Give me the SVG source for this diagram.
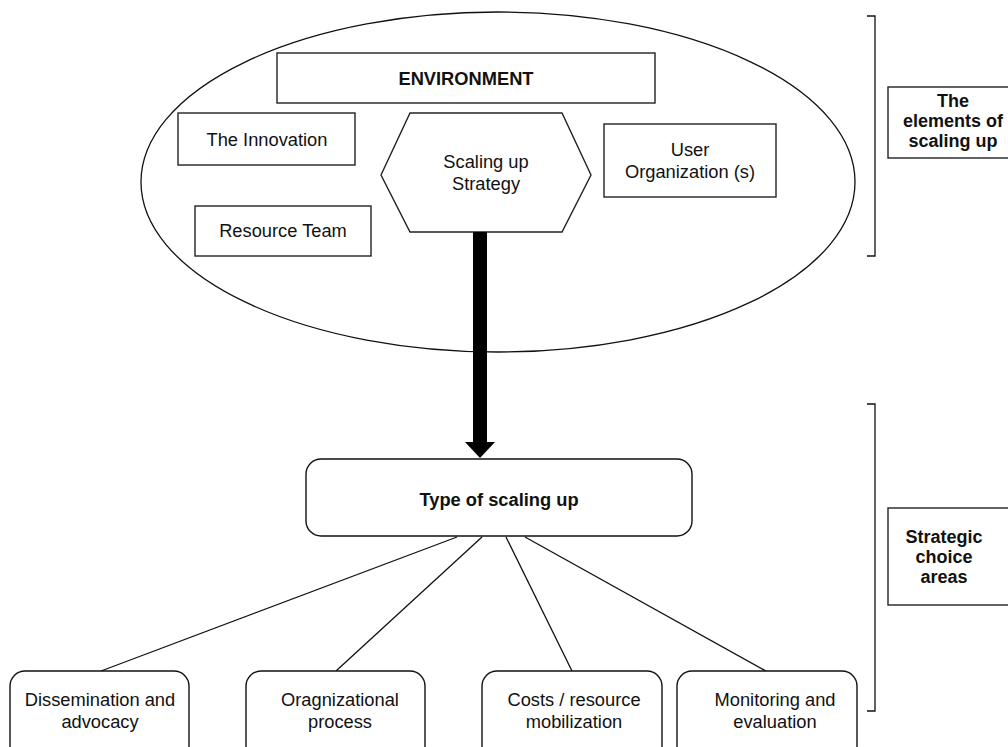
<svg xmlns="http://www.w3.org/2000/svg" width="1008" height="747" viewBox="0 0 1008 747">
  <style>
    .box { fill: #ffffff; stroke: #222222; stroke-width: 1.4; }
    .round { fill: #ffffff; stroke: #111111; stroke-width: 1.4; }
    .line { fill: none; stroke: #111111; stroke-width: 1.3; }
    .t { font-family: "Liberation Sans", Arial, sans-serif; font-size: 18.3px; fill: #111111; text-anchor: middle; }
    .b { font-weight: bold; }
    .side { font-family: "Liberation Sans", Arial, sans-serif; font-size: 18px; font-weight: bold; fill: #111111; text-anchor: middle; }
  </style>
  <rect width="1008" height="747" fill="#ffffff"/>

  <!-- Elements of scaling up -->
  <g id="elements-ellipse">
    <ellipse cx="498" cy="182" rx="357" ry="170" class="line" stroke-width="1.2"/>
  </g>
  <g id="environment">
    <rect x="277" y="53" width="378" height="50" class="box"/>
    <text x="466" y="85" class="t b">ENVIRONMENT</text>
  </g>
  <g id="innovation">
    <rect x="178" y="113" width="177" height="52" class="box"/>
    <text x="267" y="146" class="t">The Innovation</text>
  </g>
  <g id="strategy">
    <polygon points="381,175 410,113 562,113 591,175 562,232 410,232" class="box"/>
    <text x="486" y="168" class="t">Scaling up</text>
    <text x="486" y="190" class="t">Strategy</text>
  </g>
  <g id="user-org">
    <rect x="604" y="124" width="172" height="73" class="box"/>
    <text x="690" y="156" class="t">User</text>
    <text x="690" y="178" class="t">Organization (s)</text>
  </g>
  <g id="resource-team">
    <rect x="195" y="206" width="176" height="50" class="box"/>
    <text x="283" y="237" class="t">Resource Team</text>
  </g>

  <!-- Connectors -->
  <g id="connectors">
    <polygon points="473,232 487,232 487,442 495,442 480,458 465,442 473,442" fill="#000000"/>
    <line x1="457" y1="537" x2="101" y2="671" class="line"/>
    <line x1="482" y1="537" x2="336" y2="671" class="line"/>
    <line x1="506" y1="537" x2="572" y2="671" class="line"/>
    <line x1="525" y1="537" x2="766" y2="671" class="line"/>
  </g>

  <!-- Type of scaling up -->
  <g id="type">
    <rect x="306" y="459" width="386" height="77" rx="15" class="round"/>
    <text x="499" y="506" class="t b">Type of scaling up</text>
  </g>

  <!-- Strategic choice areas -->
  <g id="dissemination">
    <rect x="10" y="671" width="179" height="90" rx="15" class="round"/>
    <text x="100" y="706" class="t">Dissemination and</text>
    <text x="100" y="728" class="t">advocacy</text>
  </g>
  <g id="organizational">
    <rect x="246" y="671" width="179" height="90" rx="15" class="round"/>
    <text x="340" y="706" class="t">Oragnizational</text>
    <text x="340" y="728" class="t">process</text>
  </g>
  <g id="costs">
    <rect x="482" y="671" width="180" height="90" rx="15" class="round"/>
    <text x="574" y="706" class="t">Costs / resource</text>
    <text x="574" y="728" class="t">mobilization</text>
  </g>
  <g id="monitoring">
    <rect x="677" y="671" width="180" height="90" rx="15" class="round"/>
    <text x="775" y="706" class="t">Monitoring and</text>
    <text x="775" y="728" class="t">evaluation</text>
  </g>

  <!-- Brackets and side labels -->
  <g id="bracket-elements">
    <polyline points="867,16 875,16 875,256 867,256" class="line"/>
  </g>
  <g id="label-elements">
    <rect x="888" y="87" width="130" height="71" class="box" stroke="#444444"/>
    <text x="953" y="107" class="side">The</text>
    <text x="953" y="127" class="side">elements of</text>
    <text x="953" y="147" class="side">scaling up</text>
  </g>
  <g id="bracket-strategic">
    <polyline points="867,404 875,404 875,711 867,711" class="line"/>
  </g>
  <g id="label-strategic">
    <rect x="888" y="508" width="130" height="97" class="box" stroke="#444444"/>
    <text x="944" y="543" class="side">Strategic</text>
    <text x="944" y="563" class="side">choice</text>
    <text x="944" y="583" class="side">areas</text>
  </g>
</svg>
